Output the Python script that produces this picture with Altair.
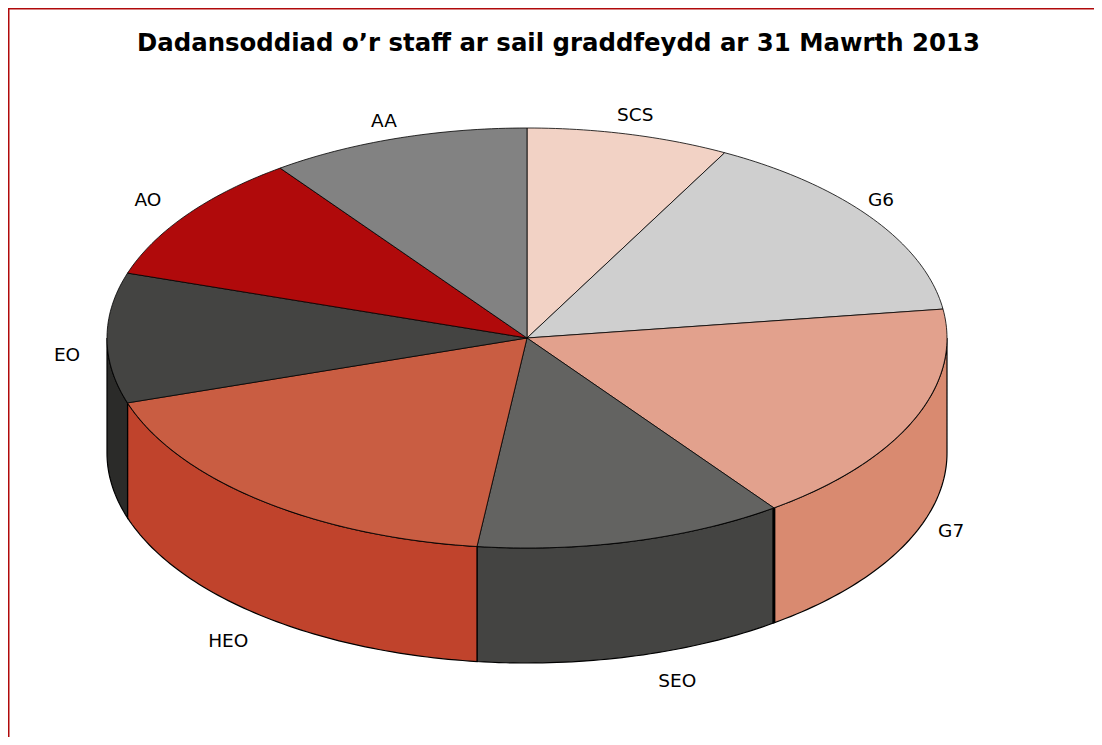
import math
import altair as alt
import pandas as pd

TITLE = "Dadansoddiad o’r staff ar sail graddfeydd ar 31 Mawrth 2013"
GRADES = ["SCS", "G6", "G7", "SEO", "HEO", "EO", "AO", "AA"]
SHARES = [7.8, 15.0, 17.2, 11.9, 18.1, 10.0, 10.0, 10.0]
TOP_COLORS = ["#f2d2c5", "#cfcfcf", "#e2a18d", "#636361", "#c95d42", "#444442", "#b00a0b", "#828282"]
WALL_COLORS = ["#f2d2c5", "#cfcfcf", "#d98a70", "#444442", "#c0432c", "#2b2b29", "#b00a0b", "#828282"]

W, H = 1086, 729
CX, CY, RX, RY, DEPTH = 519, 330, 420, 210, 115
LABEL_RX, LABEL_RY = 450, 235
NUDGE = {"SCS": (-1, 5), "G6": (-15, -3), "G7": (10, -14), "SEO": (37, 1),
         "HEO": (-13, 6), "EO": (-10, 17), "AO": (-15, 0), "AA": (-4, 6)}


def rim(deg, drop=0):
    a = math.radians(deg)
    return CX + RX * math.sin(a), CY - RY * math.cos(a) + drop


def sweep(a, b):
    n = max(2, int(abs(b - a)) + 2)
    return [a + (b - a) * i / (n - 1) for i in range(n)]


top_rows, wall_rows, label_rows, edge_rows = [], [], [], []
start = 0.0
for grade, share in zip(GRADES, SHARES):
    end = start + share * 3.6
    pts = [(CX, CY)] + [rim(d) for d in sweep(start, end)] + [(CX, CY)]
    top_rows += [{"grade": grade, "i": i, "x": p[0], "y": p[1]} for i, p in enumerate(pts)]
    lo, hi = max(start, 90), min(end, 270)
    if lo < hi:
        arc = sweep(lo, hi)
        pts = [rim(d) for d in arc] + [rim(d, DEPTH) for d in reversed(arc)] + [rim(lo)]
        wall_rows += [{"grade": grade, "i": i, "x": p[0], "y": p[1]} for i, p in enumerate(pts)]
    if grade == "SEO":
        edge_rows += [{"i": i, "x": p[0], "y": p[1]} for i, p in enumerate([rim(start), rim(start, DEPTH)])]
    mid = math.radians((start + end) / 2)
    cos_m = math.cos(mid)
    label_rows.append({
        "grade": grade,
        "x": CX + LABEL_RX * math.sin(mid),
        "y": CY - LABEL_RY * cos_m + (DEPTH if cos_m < -0.01 else 0),
    })
    start = end

xs = alt.Scale(domain=[0, W], nice=False, zero=False)
ys = alt.Scale(domain=[0, H], nice=False, zero=False, reverse=True)
X = alt.X("x:Q", scale=xs, axis=None)
Y = alt.Y("y:Q", scale=ys, axis=None)

walls = alt.Chart(pd.DataFrame(wall_rows)).mark_line(stroke="black", strokeWidth=1.2).encode(
    x=X, y=Y, order="i:Q",
    fill=alt.Fill("grade:N", scale=alt.Scale(domain=GRADES, range=WALL_COLORS), legend=None),
)
edge = alt.Chart(pd.DataFrame(edge_rows)).mark_line(color="black", strokeWidth=3).encode(
    x=X, y=Y, order="i:Q")
tops = alt.Chart(pd.DataFrame(top_rows)).mark_line(stroke="black", strokeWidth=0.8).encode(
    x=X, y=Y, order="i:Q",
    fill=alt.Fill("grade:N", scale=alt.Scale(domain=GRADES, range=TOP_COLORS), legend=None),
)
frame_top = alt.Chart(pd.DataFrame({"a": [0]})).mark_rule(color="#b00a0b", strokeWidth=3).encode(
    x=alt.value(0), x2=alt.value(W), y=alt.value(0))
frame_left = alt.Chart(pd.DataFrame({"a": [0]})).mark_rule(color="#b00a0b", strokeWidth=3).encode(
    y=alt.value(0), y2=alt.value(H), x=alt.value(0))

label_df = pd.DataFrame(label_rows)
labels = [
    alt.Chart(label_df[label_df.grade == g]).mark_text(
        font="DejaVu Sans", fontSize=18.5, color="black", dx=NUDGE[g][0], dy=NUDGE[g][1]
    ).encode(x=X, y=Y, text="grade:N")
    for g in GRADES
]

chart = alt.layer(walls, edge, tops, frame_top, frame_left, *labels).resolve_scale(fill="independent").properties(
    width=W, height=H,
    padding=0,
    autosize=alt.AutoSizeParams(type="none"),
    title=alt.TitleParams(TITLE, font="DejaVu Sans", fontSize=24.4, fontWeight="bold", color="black",
                          anchor="middle", dx=7.5, dy=54),
).configure_view(stroke=None)

chart.save("out.html", embed_options={"renderer": "svg", "actions": False})
